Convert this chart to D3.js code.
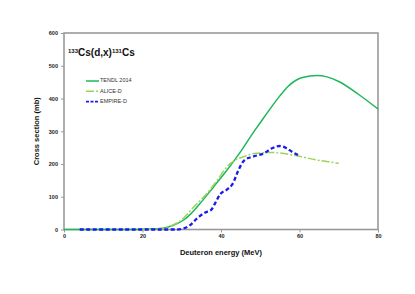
<!DOCTYPE html>
<html>
<head>
<meta charset="utf-8">
<script src="https://cdn.jsdelivr.net/npm/d3@7"></script>
<style>
  body { margin: 0; background: #fff; }
  svg { display: block; font-family: "Liberation Sans", Arial, sans-serif; }
</style>
</head>
<body>
<div id="chart"></div>
<script>
/* chart values */
var tendlE = [0, 15, 20, 24.5, 27.9, 30.5, 32.5, 34.7, 38.1, 41.5, 45, 48, 50, 52, 55, 57, 59, 61, 64.4, 67, 70, 75, 80];
var tendlV = [0, 0, 1, 3, 13, 29, 50, 80, 130, 181, 238, 292, 326, 360, 408, 436, 455, 465, 470, 466, 452, 413, 368];

var aliceE = [20, 24, 27, 30, 33, 36.4, 39, 41.5, 43.6, 45.7, 49, 53, 56, 59.3, 65, 70];
var aliceV = [0, 2, 10, 30, 68, 110, 150, 191, 212, 222, 233, 235, 232, 225, 211, 202];

var empireE = [4, 29, 30, 32, 34, 36, 37.5, 38.5, 39.8, 41.5, 43, 44.4, 46, 48, 51, 53, 55, 56.7, 58, 60];
var empireV = [0, 0, 2, 12, 35, 52, 60, 80, 108, 122, 140, 180, 212, 222, 233, 248, 255, 248, 238, 225];

var xTicks = [0, 20, 40, 60, 80];
var yTicks = [0, 100, 200, 300, 400, 500, 600];

var width = 415, height = 294;
/* plot area edges (note: "top" is reserved on window, so use pTop etc.) */
var pLeft = 64, pRight = 378, pTop = 33, pBottom = 229.5;

var svg = d3.select("#chart").append("svg")
  .attr("width", width)
  .attr("height", height);

var x = d3.scaleLinear().domain([0, 80]).range([pLeft, pRight]);
var y = d3.scaleLinear().domain([0, 600]).range([pBottom, pTop]);

/* axes */
var yAxis = svg.append("g")
  .attr("transform", "translate(" + pLeft + ",0)")
  .call(d3.axisLeft(y).tickValues(yTicks).tickSize(3).tickPadding(3));
var xAxis = svg.append("g")
  .attr("transform", "translate(0," + pBottom + ")")
  .call(d3.axisBottom(x).tickValues(xTicks).tickSize(3).tickPadding(2));

[yAxis, xAxis].forEach(function(g) {
  g.select(".domain").remove();
  g.selectAll("line").attr("stroke", "#999");
  g.selectAll("text")
    .style("font-size", "5.5px")
    .style("font-weight", "bold")
    .attr("fill", "#222");
});

/* frame */
svg.append("rect")
  .attr("x", pLeft).attr("y", pTop)
  .attr("width", pRight - pLeft).attr("height", pBottom - pTop)
  .attr("fill", "none")
  .attr("stroke", "#999")
  .attr("stroke-width", 1.6);

/* series */
function series(E, V) {
  return E.map(function(e, i) { return [e, V[i]]; });
}
var line = d3.line()
  .x(function(d) { return x(d[0]); })
  .y(function(d) { return y(d[1]); })
  .curve(d3.curveMonotoneX);

svg.append("path")
  .datum(series(tendlE, tendlV))
  .attr("d", line)
  .attr("fill", "none")
  .attr("stroke", "#1db85a")
  .attr("stroke-width", 1.5);

svg.append("path")
  .datum(series(aliceE, aliceV))
  .attr("d", line)
  .attr("fill", "none")
  .attr("stroke", "#9ad45a")
  .attr("stroke-width", 1.5)
  .attr("stroke-dasharray", "8,2,2,2");

svg.append("path")
  .datum(series(empireE, empireV))
  .attr("d", line)
  .attr("fill", "none")
  .attr("stroke", "#1a1aee")
  .attr("stroke-width", 2.3)
  .attr("stroke-dasharray", "4,2.5");

/* legend */
var legend = [
  { name: "TENDL 2014", color: "#1db85a", dash: null, w: 1.5 },
  { name: "ALICE-D", color: "#9ad45a", dash: "8,2,2,2", w: 1.5 },
  { name: "EMPIRE-D", color: "#1a1aee", dash: "3,1.5", w: 1.8 }
];
legend.forEach(function(d, i) {
  var ly = 81 + i * 10.3;
  svg.append("line")
    .attr("x1", 86).attr("x2", 99)
    .attr("y1", ly).attr("y2", ly)
    .attr("stroke", d.color)
    .attr("stroke-width", d.w)
    .attr("stroke-dasharray", d.dash);
  svg.append("text")
    .attr("x", 100).attr("y", ly)
    .attr("dominant-baseline", "middle")
    .style("font-size", "5.5px")
    .attr("fill", "#333")
    .text(d.name);
});

/* title */
var title = svg.append("text")
  .attr("x", 68).attr("y", 56)
  .style("font-size", "10px")
  .style("font-weight", "bold")
  .attr("fill", "#111");
title.append("tspan").attr("baseline-shift", "super").style("font-size", "6px").text("133");
title.append("tspan").text("Cs(d,x)");
title.append("tspan").attr("baseline-shift", "super").style("font-size", "6px").text("131");
title.append("tspan").text("Cs");

/* axis titles */
svg.append("text")
  .attr("x", (pLeft + pRight) / 2).attr("y", 255)
  .attr("text-anchor", "middle")
  .style("font-size", "7.5px")
  .style("font-weight", "bold")
  .attr("fill", "#111")
  .text("Deuteron energy (MeV)");

svg.append("text")
  .attr("transform", "translate(38.5," + ((pTop + pBottom) / 2) + ") rotate(-90)")
  .attr("text-anchor", "middle")
  .style("font-size", "7.5px")
  .style("font-weight", "bold")
  .attr("fill", "#111")
  .text("Cross section (mb)");
</script>
</body>
</html>
